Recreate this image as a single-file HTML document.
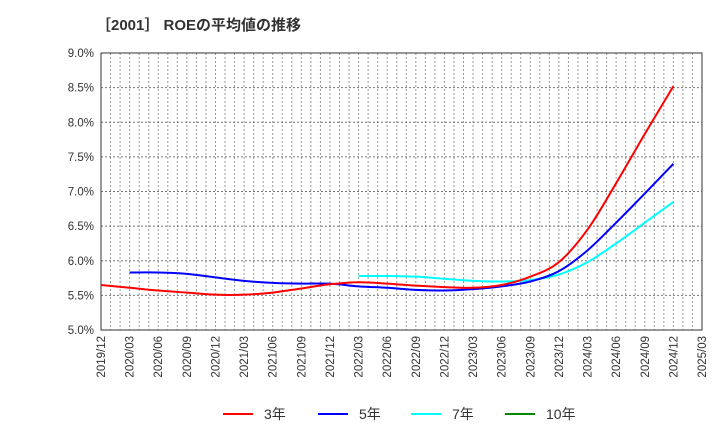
<!DOCTYPE html>
<html><head><meta charset="utf-8"><style>
body{margin:0;background:#fff;font-family:"Liberation Sans","Noto Sans CJK JP",sans-serif;}
</style></head><body>
<svg width="720" height="440" xmlns="http://www.w3.org/2000/svg">
<text x="96" y="30" font-size="15" font-weight="bold" fill="#333" font-family="Liberation Sans,Noto Sans CJK JP,sans-serif">［2001］ ROEの平均値の推移</text>
<g id="grid"></g><g id="axes"></g><g id="series"></g>
<g font-size="14" fill="#333">
<line x1="223" y1="414" x2="253" y2="414" stroke="#f00" stroke-width="2"/><text x="264" y="419">3年</text>
<line x1="318" y1="414" x2="348" y2="414" stroke="#00f" stroke-width="2"/><text x="359" y="419">5年</text>
<line x1="411" y1="414" x2="441" y2="414" stroke="#0ff" stroke-width="2"/><text x="452" y="419">7年</text>
<line x1="505" y1="414" x2="535" y2="414" stroke="#080" stroke-width="2"/><text x="546" y="419">10年</text>
</g>
</svg>
<script>
const xLabels=["2019/12","2020/03","2020/06","2020/09","2020/12","2021/03","2021/06","2021/09","2021/12","2022/03","2022/06","2022/09","2022/12","2023/03","2023/06","2023/09","2023/12","2024/03","2024/06","2024/09","2024/12","2025/03"];
const yTicks=[5.0,5.5,6.0,6.5,7.0,7.5,8.0,8.5,9.0];
const roe3=[5.65,5.61,5.57,5.54,5.51,5.51,5.54,5.60,5.66,5.69,5.67,5.64,5.62,5.61,5.65,5.77,5.98,6.45,7.12,7.83,8.52];
const roe3Start=0;
const roe5=[5.83,5.83,5.81,5.76,5.71,5.68,5.67,5.67,5.63,5.61,5.58,5.57,5.59,5.63,5.70,5.85,6.15,6.55,6.97,7.40];
const roe5Start=1;
const roe7=[5.78,5.78,5.77,5.74,5.71,5.70,5.72,5.80,5.98,6.25,6.55,6.85];
const roe7Start=9;
const L=101,R=702,T=53,B=330,NS="http://www.w3.org/2000/svg";
const xs=i=>L+i*(R-L)/(xLabels.length-1);
const ys=v=>B-(v-5)*(B-T)/4;
function mk(tag,attrs,parent){const e=document.createElementNS(NS,tag);for(const k in attrs)e.setAttribute(k,attrs[k]);parent.appendChild(e);return e;}
const grid=document.getElementById('grid'),axes=document.getElementById('axes'),ser=document.getElementById('series');
for(let m=1;m<(xLabels.length-1)*3;m++){const x=L+m*(R-L)/((xLabels.length-1)*3);
const l=mk('line',{x1:x,x2:x,y1:T,y2:B,stroke:'#999','stroke-dasharray':'2,2','stroke-width':1},grid);

}
yTicks.forEach(v=>{const y=ys(v);
const l=mk('line',{x1:L,x2:R,y1:y,y2:y,stroke:'#777','stroke-dasharray':'2,2','stroke-width':1},grid);


const t=mk('text',{x:L-7,y:y+4,'text-anchor':'end','font-size':11.5,fill:'#333'},axes);t.textContent=v.toFixed(1)+'%';

});
xLabels.forEach((s,i)=>{const x=xs(i);
const t=mk('text',{transform:`translate(${x+4},${B+6}) rotate(-90)`,'text-anchor':'end','font-size':11.5,fill:'#333'},axes);t.textContent=s;

});
const fr=mk('rect',{x:L,y:T,width:R-L,height:B-T,fill:'none',stroke:'#333','stroke-width':1},axes);


function path(vals,start,color,name){const p=vals.map((v,i)=>[xs(start+i),ys(v)]);
let d=`M${p[0][0]},${p[0][1]}`;
for(let i=0;i<p.length-1;i++){const p0=p[Math.max(0,i-1)],p1=p[i],p2=p[i+1],p3=p[Math.min(p.length-1,i+2)];
d+=` C${p1[0]+(p2[0]-p0[0])/6},${p1[1]+(p2[1]-p0[1])/6} ${p2[0]-(p3[0]-p1[0])/6},${p2[1]-(p3[1]-p1[1])/6} ${p2[0]},${p2[1]}`;}
const e=mk('path',{d:d,fill:'none',stroke:color,'stroke-width':2},ser);

}
path(roe7,roe7Start,'#0ff','line-7y');
path(roe5,roe5Start,'#00f','line-5y');
path(roe3,roe3Start,'#f00','line-3y');
</script>
</body></html>
